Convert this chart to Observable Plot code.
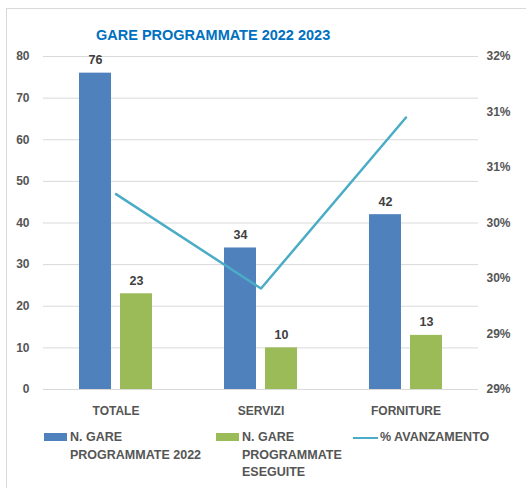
<!DOCTYPE html>
<html><head><meta charset="utf-8">
<script src="https://cdn.jsdelivr.net/npm/d3@7"></script>
<script src="https://cdn.jsdelivr.net/npm/@observablehq/plot@0.6"></script>
<style>
html,body{margin:0;padding:0;background:#fff;}
#wrap{position:relative;width:526px;height:488px;overflow:hidden;font-family:"Liberation Sans",Arial,sans-serif;}
#frame{position:absolute;left:6px;top:8px;width:540px;height:500px;border:1px solid #d9d9d9;box-sizing:border-box;}
#title{position:absolute;left:96px;top:27px;font-size:14.5px;line-height:17px;font-weight:bold;color:#0070c0;white-space:nowrap;}
#chart{position:absolute;left:0;top:0;}
.leg{position:absolute;font-size:12.5px;line-height:17.5px;font-weight:bold;color:#555;white-space:nowrap;}
.sw{position:absolute;}
</style></head>
<body><div id="wrap"><div id="frame"></div><div id="chart"></div><div id="title">GARE PROGRAMMATE 2022 2023</div></div>
<script>
const categories = ["TOTALE", "SERVIZI", "FORNITURE"];
const programmate = [76, 34, 42];
const eseguite = [23, 10, 13];
const avanzamento = [30.26, 29.41, 30.95]; // percent
const leftTicks = [0, 10, 20, 30, 40, 50, 60, 70, 80];
const rightTickValues = [28.5, 29, 29.5, 30, 30.5, 31, 31.5];
const rightTickLabels = ["29%", "29%", "30%", "30%", "31%", "31%", "32%"];
const seriesNames = ["N. GARE PROGRAMMATE 2022", "N. GARE PROGRAMMATE ESEGUITE", "% AVANZAMENTO"];
const colors = ["#4f81bd", "#9bbb59", "#4bacc6"];

const pMin = 28.5, pMax = 31.5, yMax = 80;
const toLeft = p => (p - pMin) / (pMax - pMin) * yMax;
const blueData = categories.map((c, i) => ({cat: c, v: programmate[i]}));
const greenData = categories.map((c, i) => ({cat: c, v: eseguite[i]}));
const lineData = categories.map((c, i) => ({cat: c, v: toLeft(avanzamento[i])}));
const rightPos = rightTickValues.map(toLeft);
const rightLabel = new Map(rightPos.map((p, i) => [p, rightTickLabels[i]]));

const ins = (145 - 32) / 2;
const axisText = "#555";
const chart = Plot.plot({
  width: 526, height: 488,
  marginLeft: 43, marginRight: 48, marginTop: 56, marginBottom: 99,
  style: {fontFamily: "'Liberation Sans', Arial, sans-serif", background: "transparent", overflow: "visible"},
  x: {domain: categories, padding: 0, axis: null},
  y: {domain: [0, yMax], axis: null},
  marks: [
    Plot.ruleY(leftTicks, {stroke: "#d9d9d9", strokeWidth: 1}),
    Plot.barY(blueData, {x: "cat", y: "v", fill: colors[0], dx: -20.5, insetLeft: ins, insetRight: ins}),
    Plot.barY(greenData, {x: "cat", y: "v", fill: colors[1], dx: 20.5, insetLeft: ins, insetRight: ins}),
    Plot.text(blueData, {x: "cat", y: "v", text: d => String(d.v), dx: -20.5, dy: -13, fontSize: 12.5, fontWeight: "bold", fill: "#404040"}),
    Plot.text(greenData, {x: "cat", y: "v", text: d => String(d.v), dx: 20.5, dy: -13, fontSize: 12.5, fontWeight: "bold", fill: "#404040"}),
    Plot.lineY(lineData, {x: "cat", y: "v", stroke: colors[2], strokeWidth: 2.5}),
    Plot.axisY(leftTicks, {anchor: "left", tickSize: 0, tickPadding: 14, fontSize: 12, fontWeight: "bold", fill: axisText, label: null}),
    Plot.axisY(rightPos, {anchor: "right", tickSize: 0, tickPadding: 8, tickFormat: d => rightLabel.get(d), fontSize: 12, fontWeight: "bold", fill: axisText, label: null}),
    Plot.axisX(categories, {anchor: "bottom", tickSize: 0, tickPadding: 16.5, fontSize: 12, fontWeight: "bold", fill: axisText, label: null})
  ]
});
document.getElementById("chart").appendChild(chart);

// legend
const wrap = document.getElementById("wrap");
const legendItems = [
  {x: 44, text: "N. GARE<br>PROGRAMMATE 2022", type: "bar"},
  {x: 216, text: "N. GARE<br>PROGRAMMATE<br>ESEGUITE", type: "bar"},
  {x: 353, text: "% AVANZAMENTO", type: "line"}
];
legendItems.forEach((it, i) => {
  const sw = document.createElement("div");
  sw.className = "sw";
  if (it.type === "bar") {
    Object.assign(sw.style, {left: it.x + "px", top: "433px", width: "23px", height: "8px", background: colors[i]});
  } else {
    Object.assign(sw.style, {left: it.x + "px", top: "436.5px", width: "25px", height: "2.5px", background: colors[i]});
  }
  wrap.appendChild(sw);
  const t = document.createElement("div");
  t.className = "leg";
  t.style.left = (it.x + (it.type === "bar" ? 26 : 27)) + "px";
  t.style.top = "429px";
  t.innerHTML = it.text;
  wrap.appendChild(t);
});
</script></body></html>
